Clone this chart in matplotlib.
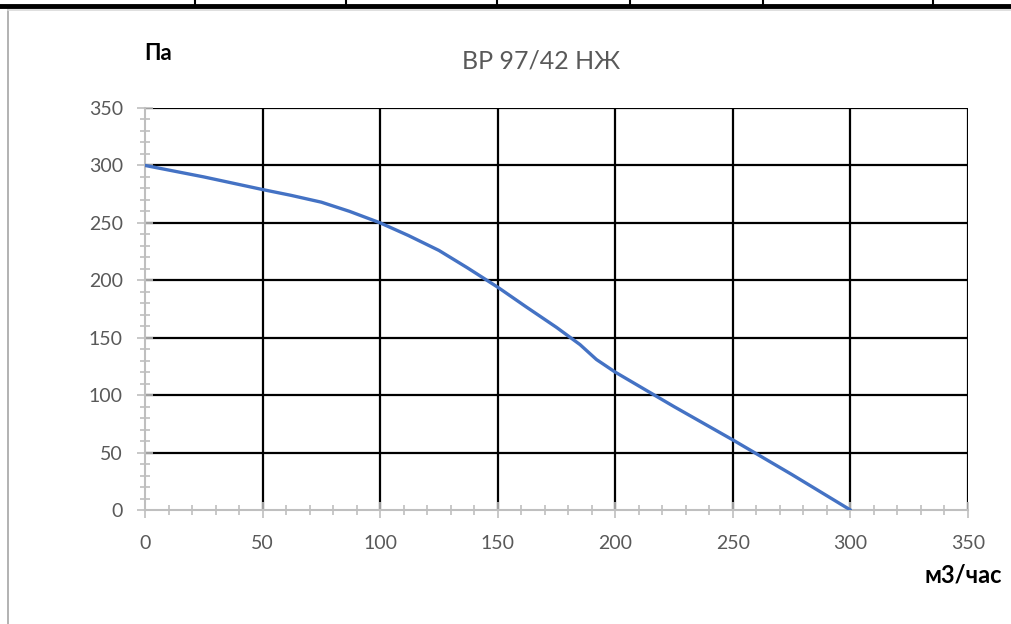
import numpy as np
import matplotlib.pyplot as plt
from matplotlib.lines import Line2D

# fan curve
flow = [0, 25, 50, 62, 75, 87, 100, 112, 125, 137, 150, 162, 175, 185, 192, 200, 225, 250, 275, 300]
pressure = [300, 290, 279, 274, 268, 260, 250, 239, 226, 211, 194, 177, 159, 144, 131, 120, 90, 61, 31, 0]

xticks = [0, 50, 100, 150, 200, 250, 300, 350]
yticks = [0, 50, 100, 150, 200, 250, 300, 350]
title = "ВР 97/42 НЖ"
ylab = "Па"
xlab = "м3/час"

plt.rcParams['font.family'] = ['Lato', 'DejaVu Sans']
gray = '#595959'
axgray = '#BFBFBF'

fig = plt.figure(figsize=(10.11, 6.24), dpi=100)
ax = fig.add_axes([145/1011, 1-510/624, (968-145)/1011, (510-108)/624])

for v in yticks[1:]:
    ax.axhline(v, color='black', lw=1.6, zorder=1)
for v in xticks[1:]:
    ax.axvline(v, color='black', lw=1.6, zorder=1)

ax.plot(flow, pressure, color='#4472C4', lw=2.4, zorder=3,
        solid_capstyle='round', solid_joinstyle='round')

ax.set_xlim(0, 350)
ax.set_ylim(0, 350)
ax.set_xticks(xticks)
ax.set_yticks(yticks)
ax.set_xticks(np.arange(0, 351, 10), minor=True)
ax.set_yticks(np.arange(0, 351, 10), minor=True)
ax.tick_params(which='both', direction='inout', color=axgray, width=1.2)
ax.tick_params(which='major', length=12, labelsize=14, labelcolor=gray)
ax.tick_params(which='minor', length=7)
ax.tick_params(axis='x', pad=12)
ax.tick_params(axis='y', pad=10)

for s in ['top', 'right']:
    ax.spines[s].set_visible(False)
for s in ['left', 'bottom']:
    ax.spines[s].set_color(axgray)
    ax.spines[s].set_linewidth(1.5)
    ax.spines[s].set_zorder(2)

fig.text(541/1011, 1-61/624, title, ha='center', va='center', fontsize=18, color=gray)
fig.text(158/1011, 1-54/624, ylab, ha='center', va='center', fontsize=16, fontweight='bold')
fig.text(1002/1011, 1-575/624, xlab, ha='right', va='center', fontsize=17, fontweight='bold')

# table border above and frame edge
fig.add_artist(Line2D([0, 1], [1-6/624, 1-6/624], color='black', lw=3.5))
for xp in [195, 346, 497, 630, 763, 933]:
    fig.add_artist(Line2D([xp/1011, xp/1011], [1, 1-6/624], color='black', lw=1.5))
fig.add_artist(Line2D([8/1011, 8/1011], [0, 1-10/624], color='#A6A6A6', lw=1.2))
fig.add_artist(Line2D([8/1011, 1], [1-10/624, 1-10/624], color='#D9D9D9', lw=1.2))

fig.savefig('out.png', dpi=100)
